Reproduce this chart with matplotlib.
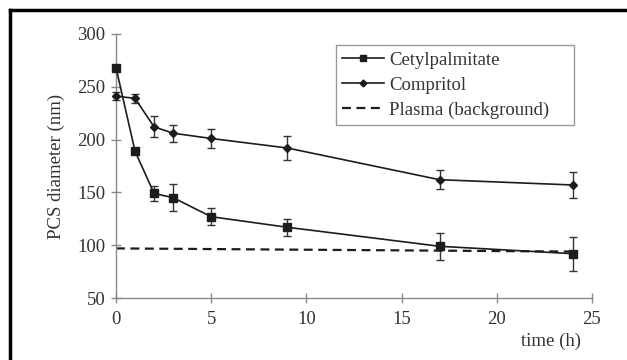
import matplotlib
matplotlib.use("Agg")
import matplotlib.pyplot as plt
from matplotlib.lines import Line2D

plt.rcParams['font.family'] = ['Liberation Serif', 'DejaVu Serif']

time_h = [0, 1, 2, 3, 5, 9, 17, 24]
cetyl = [268, 189, 149, 145, 127, 117, 99, 92]
cetyl_err = [0, 0, 7, 13, 8, 8, 13, 16]
comp = [241, 239, 212, 206, 201, 192, 162, 157]
comp_err = [4, 4, 10, 8, 9, 11, 9, 12]
plasma_t = [0, 24]
plasma = [97, 94]

ink = '#1c1c1c'
grey = '#8a8a8a'
txt = '#333333'

fig = plt.figure(figsize=(6.27, 3.6), dpi=100)
ax = fig.add_axes([0.185, 0.172, 0.759, 0.734])

ax.errorbar(time_h, cetyl, yerr=cetyl_err, color=ink, lw=1.2, marker='s', ms=6,
            capsize=3, elinewidth=1.0, ecolor='#333333', clip_on=False, zorder=3,
            label='Cetylpalmitate')
ax.errorbar(time_h, comp, yerr=comp_err, color=ink, lw=1.2, marker='D', ms=3.8,
            capsize=3, elinewidth=1.0, ecolor='#333333', clip_on=False, zorder=3,
            label='Compritol')
ax.plot(plasma_t, plasma, color=ink, lw=1.6, ls=(0, (4, 2.5)),
        label='Plasma (background)', zorder=2)

ax.set_xlim(0, 25)
ax.set_ylim(50, 300)
ax.set_xticks(range(0, 26, 5))
ax.set_yticks(range(50, 301, 50))
for s in ['top', 'right']:
    ax.spines[s].set_visible(False)
for s in ['left', 'bottom']:
    ax.spines[s].set_color(grey)
    ax.spines[s].set_linewidth(1.0)
ax.tick_params(direction='inout', length=7, width=1.0, color=grey,
               labelsize=13.5, labelcolor=txt, pad=4)
ax.tick_params(axis='x', pad=6)

ax.set_ylabel('PCS diameter (nm)', fontsize=13.5, color=txt, labelpad=9)
fig.text(0.879, 0.04, 'time (h)', fontsize=13.5, color=txt, ha='center')

handles = [
    Line2D([], [], color=ink, lw=1.2, marker='s', ms=5),
    Line2D([], [], color=ink, lw=1.2, marker='D', ms=3.5),
    Line2D([], [], color=ink, lw=1.6, ls=(0, (4, 2.5))),
]
leg = ax.legend(handles, ['Cetylpalmitate', 'Compritol', 'Plasma (background)'],
                loc='upper left', bbox_to_anchor=(0.462, 0.5, 0.5, 0.458),
                mode='expand', fontsize=13.5,
                fancybox=False, framealpha=1, edgecolor='#999999',
                handlelength=2.2, handletextpad=0.3, borderpad=0.35,
                labelspacing=0.42, borderaxespad=0)
leg.get_frame().set_linewidth(1.0)
for t in leg.get_texts():
    t.set_color(txt)

# black frame around the figure (top and left visible)
fig.add_artist(Line2D([0.016, 1.0], [0.972, 0.972], transform=fig.transFigure,
                      color='black', lw=2.5))
fig.add_artist(Line2D([0.016, 0.016], [0.0, 0.972], transform=fig.transFigure,
                      color='black', lw=2.5))

fig.savefig('out.png', dpi=100)
